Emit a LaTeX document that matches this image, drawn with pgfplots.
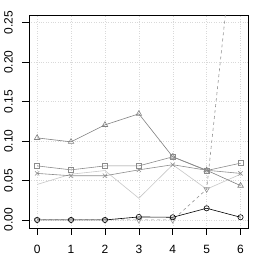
\documentclass[border=0pt]{standalone}
\usepackage{pgfplots}
\pgfplotsset{compat=1.18}
\usetikzlibrary{calc}
\usepackage{fontspec}
\setmainfont{Liberation Sans}
\definecolor{cTri}{gray}{0.50}
\definecolor{cSq}{gray}{0.55}
\definecolor{cX}{gray}{0.55}
\definecolor{cLight}{gray}{0.78}
\definecolor{cDash}{gray}{0.58}
\begin{document}
\begin{tikzpicture}
\begin{axis}[
  scale only axis,
  width=219.7pt, height=213pt,
  xmin=-0.24, xmax=6.24,
  ymin=-0.0102, ymax=0.2598,
  axis line style={black, line width=0.7pt},
  xtick={0,1,2,3,4,5,6},
  ytick={0,0.05,0.1,0.15,0.2,0.25},
  tick align=outside,
  tick pos=left,
  major tick length=7pt,
  tick style={black, line width=0.6pt},
  grid=major,
  grid style={dotted, gray!30, line width=0.5pt},
  /pgf/number format/assume math mode=true,
  ticklabel style={font=\fontsize{12}{14}\selectfont},
  yticklabel style={rotate=90, anchor=south, inner sep=0pt, /pgf/number format/fixed, /pgf/number format/fixed zerofill, /pgf/number format/precision=2},
  yticklabel shift=9pt,
  xticklabel style={anchor=north, inner sep=0pt},
  xticklabel shift=10pt,
  every axis plot/.append style={line width=0.6pt},
]
\addplot[cLight, no marks] coordinates {(0,0.045)(1,0.058)(2,0.0626)(3,0.0275)(4,0.070)(5,0.039)(6,0.058)};
\addplot[cDash, dashed, mark=triangle, mark size=3.2pt, mark options={solid, rotate=180}] coordinates {(0,0)(1,0)(2,0)(3,0)(4,0)(5,0.039)(6,0.44)};
\addplot[cTri, mark=triangle, mark size=3.2pt] coordinates {(0,0.104)(1,0.099)(2,0.1205)(3,0.1345)(4,0.080)(5,0.063)(6,0.0435)};
\addplot[cSq, mark=square, mark size=2.6pt] coordinates {(0,0.0685)(1,0.0635)(2,0.0685)(3,0.0685)(4,0.080)(5,0.0626)(6,0.072)};
\addplot[cX, mark=x, mark size=3pt] coordinates {(0,0.059)(1,0.056)(2,0.056)(3,0.0635)(4,0.070)(5,0.063)(6,0.059)};
\addplot[black, mark=o, mark size=2.6pt] coordinates {(0,0)(1,0)(2,0)(3,0.0038)(4,0.0034)(5,0.0148)(6,0.0034)};
\end{axis}
\pgfresetboundingbox
\path[use as bounding box] ($(current axis.south west)+(-29pt,-30pt)$) rectangle ($(current axis.north east)+(9.3pt,15pt)$);
\end{tikzpicture}
\end{document}
